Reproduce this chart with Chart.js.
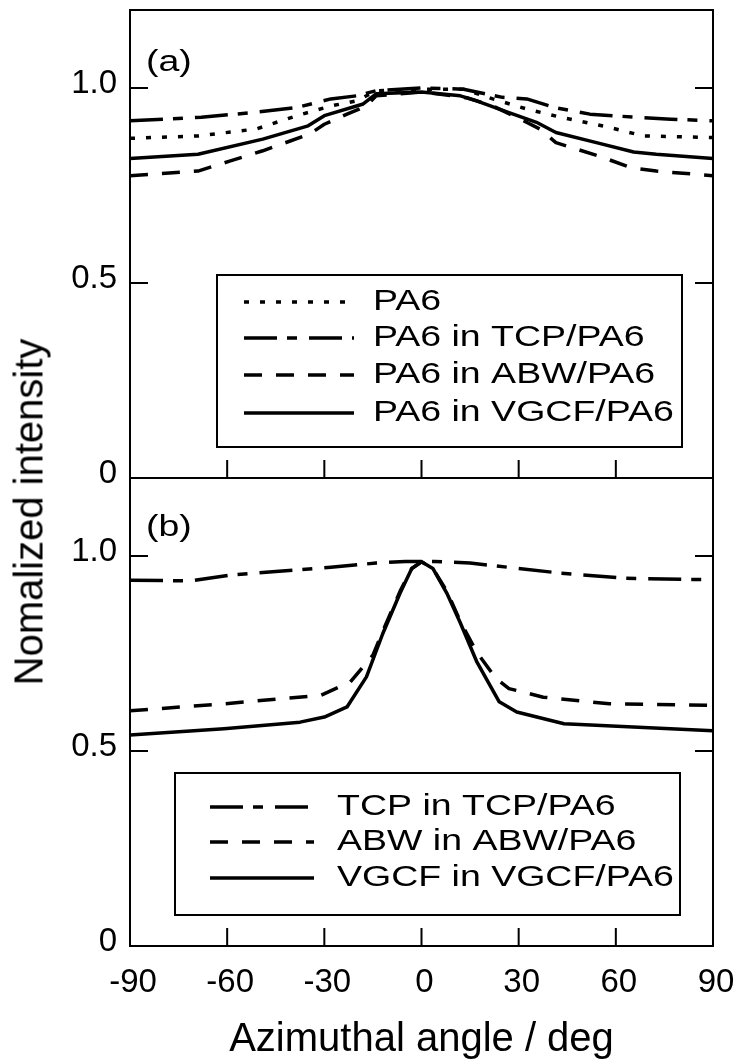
<!DOCTYPE html>
<html>
<head>
<meta charset="utf-8">
<script src="https://cdn.jsdelivr.net/npm/chart.js@4.4.1/dist/chart.umd.min.js"></script>
<style>
  html, body { margin: 0; padding: 0; background: #fff; }
  #wrap { position: relative; width: 739px; height: 1064px; overflow: hidden; }
  #wrap canvas { position: absolute; left: 0; }
  #ytitle {
    position: absolute; left: 29px; top: 512px;
    transform: translate(-50%, -50%) rotate(-90deg);
    font: 40px "Liberation Sans", Arial, sans-serif;
    white-space: nowrap; color: #000;
  }
</style>
</head>
<body>
<div id="wrap">
  <canvas id="chartA" width="739" height="500" style="top:0"></canvas>
  <canvas id="chartB" width="739" height="594" style="top:470px"></canvas>
  <div id="ytitle">Nomalized intensity</div>
</div>
<script>
// ── Data ────────────────────────────────────────────────────────────────────

const angleTicks = [-90, -60, -30, 0, 30, 60, 90];
const intensityTicks = [0, 0.5, 1.0];

// panel (a): PA6 matrix
const pa6Angles = [-90, -69, -51, -38.5, -28, -20, -14, 0, 13, 22, 32.5, 43, 58, 68.5, 90];
const pa6Values = [0.871, 0.877, 0.895, 0.929, 0.954, 0.967, 0.993, 0.997, 0.997, 0.972, 0.946, 0.925, 0.899, 0.877, 0.873];

const pa6TcpAngles = [-90, -68, -51, -38.5, -28, -20, -14, 0, 13, 25, 32.5, 41, 52, 66, 77, 90];
const pa6TcpValues = [0.916, 0.925, 0.938, 0.95, 0.972, 0.98, 0.993, 1.0, 0.997, 0.976, 0.972, 0.95, 0.933, 0.925, 0.92, 0.916];

const pa6AbwAngles = [-90, -69, -59, -49, -34.5, -30, -23, -17, -14, 0, 14, 22, 31.5, 36.5, 41.5, 56, 64.5, 72.5, 90];
const pa6AbwValues = [0.775, 0.787, 0.813, 0.839, 0.882, 0.907, 0.933, 0.954, 0.98, 0.99, 0.975, 0.954, 0.916, 0.895, 0.86, 0.822, 0.796, 0.787, 0.775];

const pa6VgcfAngles = [-90, -69, -49, -35, -30, -18, -14, 0, 12, 17, 27, 35.5, 41.5, 54, 65.5, 72.5, 90];
const pa6VgcfValues = [0.819, 0.830, 0.869, 0.903, 0.929, 0.959, 0.985, 0.99, 0.98, 0.967, 0.937, 0.912, 0.886, 0.86, 0.836, 0.830, 0.819];

// panel (b): fillers
const tcpAngles = [-90, -71.5, -58, -45, -28, -14, -5, 0, 4, 15, 29, 43, 63, 90];
const tcpValues = [0.938, 0.936, 0.952, 0.96, 0.971, 0.982, 0.986, 0.986, 0.986, 0.982, 0.969, 0.956, 0.943, 0.939];

const abwAngles = [-90, -61, -31, -22, -15, -12, -6.6, -3, 0, 3.5, 7.8, 12, 17, 23, 27, 37.6, 58, 90];
const abwValues = [0.603, 0.621, 0.643, 0.677, 0.746, 0.806, 0.91, 0.968, 0.985, 0.968, 0.91, 0.832, 0.754, 0.686, 0.66, 0.638, 0.621, 0.617];

const vgcfAngles = [-90, -61, -37.5, -30, -23, -17, -12, -6.6, -3, 0, 3.5, 7.8, 11.9, 17, 24, 29.4, 44, 90];
const vgcfValues = [0.541, 0.557, 0.574, 0.587, 0.613, 0.69, 0.80, 0.905, 0.968, 0.985, 0.968, 0.905, 0.83, 0.73, 0.626, 0.60, 0.57, 0.552];

// ── Styles ───────────────────────────────────────────────────────────────────

const FONT = "'Liberation Sans', Arial, sans-serif";
const TICK_LEN = 18;
const TEXT_STRETCH = 1.25;   // reference text is a little wider than Arial

const DOTTED   = [5, 11];
const DASH_DOT = [33, 10, 10, 12];
const DASHED   = [18, 14];
const SOLID    = [];

function series(label, angles, values, dash) {
  return {
    label,
    data: angles.map((a, i) => ({ x: a, y: values[i] })),
    borderColor: "#000",
    borderWidth: 3.5,
    borderDash: dash,
    borderCapStyle: "butt",
    borderJoinStyle: "round",
    pointRadius: 0,
    fill: false,
    tension: 0,
  };
}

function stretchedText(ctx, text, x, y) {
  ctx.save();
  ctx.translate(x, y);
  ctx.scale(TEXT_STRETCH, 1);
  ctx.fillText(text, 0, 0);
  ctx.restore();
}

// frame, inward ticks, panel tag and boxed legend
const framePlugin = {
  id: "frame",
  afterDatasetsDraw(chart, args, opts) {
    const { ctx, chartArea: a, scales: { x, y } } = chart;
    ctx.save();
    ctx.strokeStyle = "#000";
    ctx.fillStyle = "#000";
    ctx.lineWidth = 2;
    ctx.setLineDash([]);
    ctx.strokeRect(a.left, a.top, a.right - a.left, a.bottom - a.top);

    ctx.beginPath();
    angleTicks.forEach(v => {
      const px = x.getPixelForValue(v);
      ctx.moveTo(px, a.bottom);
      ctx.lineTo(px, a.bottom - TICK_LEN);
    });
    intensityTicks.forEach(v => {
      const py = y.getPixelForValue(v);
      ctx.moveTo(a.left, py);
      ctx.lineTo(a.left + TICK_LEN, py);
      ctx.moveTo(a.right, py);
      ctx.lineTo(a.right - TICK_LEN, py);
    });
    ctx.stroke();

    ctx.font = `30px ${FONT}`;
    ctx.textBaseline = "middle";
    ctx.textAlign = "left";
    stretchedText(ctx, opts.tag, opts.tagPos[0], opts.tagPos[1]);

    // legend box
    const [bx, by, bw, bh] = opts.box;
    ctx.fillStyle = "#fff";
    ctx.fillRect(bx, by, bw, bh);
    ctx.strokeRect(bx, by, bw, bh);
    ctx.fillStyle = "#000";
    chart.data.datasets.forEach((ds, i) => {
      const ry = opts.rows[i];
      ctx.beginPath();
      ctx.lineWidth = ds.borderWidth;
      ctx.lineCap = "butt";
      ctx.setLineDash(ds.borderDash);
      ctx.moveTo(opts.lineX[0], ry);
      ctx.lineTo(opts.lineX[1], ry);
      ctx.stroke();
      stretchedText(ctx, ds.label, opts.textX, ry);
    });
    ctx.restore();
  },
};

function yScale() {
  return {
    min: 0,
    max: 1.2,
    afterBuildTicks: s => { s.ticks = intensityTicks.map(v => ({ value: v })); },
    afterFit: s => { s.width = 130; s.paddingTop = 0; s.paddingBottom = 0; },
    grid: { display: false, drawTicks: false },
    border: { display: false },
    ticks: {
      color: "#000",
      font: { family: FONT, size: 33 },
      padding: 13,
      labelOffset: -4,
      callback: v => (v === 0 ? "0" : v.toFixed(1)),
    },
  };
}

// ── Panel (a) ────────────────────────────────────────────────────────────────

new Chart(document.getElementById("chartA"), {
  type: "line",
  data: {
    datasets: [
      series("PA6", pa6Angles, pa6Values, DOTTED),
      series("PA6 in TCP/PA6", pa6TcpAngles, pa6TcpValues, DASH_DOT),
      series("PA6 in ABW/PA6", pa6AbwAngles, pa6AbwValues, DASHED),
      series("PA6 in VGCF/PA6", pa6VgcfAngles, pa6VgcfValues, SOLID),
    ],
  },
  options: {
    responsive: false,
    animation: false,
    layout: { padding: { top: 10, right: 26, bottom: 22, left: 0 } },
    scales: {
      x: {
        type: "linear", min: -90, max: 90, display: false,
        afterFit: s => { s.paddingLeft = 0; s.paddingRight = 0; },
      },
      y: yScale(),
    },
    plugins: {
      legend: { display: false },
      tooltip: { enabled: false },
      frame: {
        tag: "(a)",
        tagPos: [146, 63],
        box: [217, 275, 465, 172],
        rows: [302, 338, 375, 413],
        lineX: [244, 354],
        textX: 373,
      },
    },
  },
  plugins: [framePlugin],
});

// ── Panel (b) ────────────────────────────────────────────────────────────────

new Chart(document.getElementById("chartB"), {
  type: "line",
  data: {
    datasets: [
      series("TCP in TCP/PA6", tcpAngles, tcpValues, DASH_DOT),
      series("ABW in ABW/PA6", abwAngles, abwValues, DASHED),
      series("VGCF in VGCF/PA6", vgcfAngles, vgcfValues, SOLID),
    ],
  },
  options: {
    responsive: false,
    animation: false,
    layout: { padding: { top: 8, right: 26, bottom: 0, left: 0 } },
    scales: {
      x: {
        type: "linear",
        min: -90,
        max: 90,
        afterBuildTicks: s => { s.ticks = angleTicks.map(v => ({ value: v })); },
        afterFit: s => { s.height = 118; s.paddingLeft = 0; s.paddingRight = 0; },
        grid: { display: false, drawTicks: false },
        border: { display: false },
        ticks: {
          color: "#000",
          font: { family: FONT, size: 33 },
          padding: 17,
          labelOffset: 3,
          maxRotation: 0,
          callback: v => String(v),
        },
        title: {
          display: true,
          text: "Azimuthal angle / deg",
          color: "#000",
          font: { family: FONT, size: 40 },
          padding: { top: 0, bottom: 0 },
        },
      },
      y: yScale(),
    },
    plugins: {
      legend: { display: false },
      tooltip: { enabled: false },
      frame: {
        tag: "(b)",
        tagPos: [146, 58],
        box: [175, 303, 505, 142],
        rows: [337, 372, 408],
        lineX: [210, 314],
        textX: 337,
      },
    },
  },
  plugins: [framePlugin],
});
</script>
</body>
</html>
